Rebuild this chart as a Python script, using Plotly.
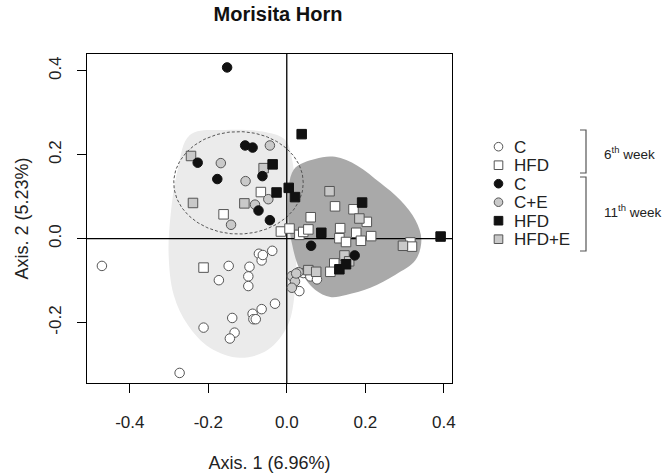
import numpy as np
import plotly.graph_objects as go

# ---------------- data ----------------
c6_x = [-0.471, -0.212, -0.273, -0.148, -0.173, -0.095, -0.098, -0.098, -0.071, -0.064,
        -0.037, -0.139, -0.133, -0.145, -0.087, -0.064, -0.030, -0.085, -0.079, -0.061,
        0.032, 0.042, 0.060, 0.077]
c6_y = [-0.065, -0.212, -0.320, -0.065, -0.099, -0.067, -0.090, -0.113, -0.036, -0.052,
        -0.029, -0.189, -0.224, -0.238, -0.179, -0.168, -0.155, -0.192, -0.192, -0.039,
        -0.125, -0.082, -0.090, -0.097]

hfd6_x = [-0.212, -0.066, -0.161, -0.015, 0.007, 0.032, 0.042, 0.055, 0.123, 0.061,
          0.170, 0.204, 0.136, 0.134, 0.151, 0.177, 0.189, 0.215, 0.315, 0.319, 0.121, 0.111]
hfd6_y = [-0.069, 0.111, 0.058, 0.017, 0.024, 0.009, 0.016, 0.022, 0.077, 0.051,
          0.070, 0.040, 0.025, 0.001, -0.008, 0.014, -0.005, 0.006, -0.009, -0.019, -0.059, -0.079]

c11_x = [-0.152, -0.106, -0.087, -0.227, -0.177, -0.062, -0.072, -0.043, 0.062, 0.173]
c11_y = [0.408, 0.222, 0.217, 0.181, 0.142, 0.149, 0.067, 0.044, -0.017, -0.040]

ce11_x = [-0.043, -0.168, -0.105, -0.081, -0.047, -0.142, 0.013, 0.021, 0.013, 0.030, 0.024]
ce11_y = [0.222, 0.180, 0.137, 0.081, 0.094, 0.033, -0.089, -0.102, -0.117, -0.080, -0.083]

hfd11_x = [-0.036, -0.026, 0.005, 0.021, 0.038, 0.088, 0.192, 0.134, 0.151, 0.392]
hfd11_y = [0.177, 0.110, 0.121, 0.099, 0.249, 0.014, 0.086, -0.073, -0.061, 0.005]

hfde11_x = [-0.244, -0.059, -0.239, -0.108, 0.109, 0.185, 0.296, 0.147, 0.159, 0.055, 0.075]
hfde11_y = [0.197, 0.168, 0.085, 0.084, 0.113, 0.048, -0.017, -0.040, -0.054, -0.075, -0.079]

# smooth group envelopes
light_hull_x = [-0.247, -0.158, -0.055, -0.004, 0.016, 0.021, 0.024, 0.021, 0.003, -0.048,
                -0.119, -0.196, -0.252, -0.288, -0.301, -0.296, -0.278]
light_hull_y = [0.247, 0.259, 0.254, 0.235, 0.176, 0.092, -0.027, -0.122, -0.206, -0.265,
                -0.284, -0.260, -0.206, -0.134, -0.039, 0.056, 0.164]
dark_hull_x = [0.018, 0.072, 0.123, 0.180, 0.238, 0.289, 0.328, 0.343, 0.328, 0.277,
               0.213, 0.151, 0.111, 0.072, 0.034, 0.014, 0.003]
dark_hull_y = [0.165, 0.190, 0.195, 0.174, 0.133, 0.092, 0.044, -0.003, -0.051, -0.086,
               -0.117, -0.134, -0.139, -0.122, -0.075, -0.015, 0.075]

ell_center = (-0.123, 0.133)
ell_radii = (0.165, 0.122)

x_ticks = [-0.4, -0.2, 0.0, 0.2, 0.4]
x_tick_labels = ["-0.4", "-0.2", "0.0", "0.2", "0.4"]
y_ticks = [-0.2, 0.0, 0.2, 0.4]
y_tick_labels = ["-0.2", "0.0", "0.2", "0.4"]

legend_labels = ["C", "HFD", "C", "C+E", "HFD", "HFD+E"]

# ---------------- styling ----------------
W, H = 663, 476
ML, MT = 87, 54
MR = W - 452
MB = H - 383
PW, PH = W - ML - MR, H - MT - MB
XR = [-0.509, 0.421]
YR = [-0.344, 0.44]
FONT = "Liberation Sans, Arial, Helvetica, sans-serif"
WHITE, GREY, BLACK = "#ffffff", "#c9c9c9", "#111111"
EDGE = "#555555"

def close(a):
    return list(a) + [a[0]]

fig = go.Figure()

fig.add_trace(go.Scatter(x=close(light_hull_x), y=close(light_hull_y), mode="lines",
                         line=dict(color="#ebebeb", width=0, shape="spline", smoothing=1.0),
                         fill="toself", fillcolor="#ebebeb", hoverinfo="skip", showlegend=False))
fig.add_trace(go.Scatter(x=close(dark_hull_x), y=close(dark_hull_y), mode="lines",
                         line=dict(color="#a9a9a9", width=0, shape="spline", smoothing=1.0),
                         fill="toself", fillcolor="#a9a9a9", hoverinfo="skip", showlegend=False))

t = np.linspace(0, 2 * np.pi, 200)
fig.add_trace(go.Scatter(x=ell_center[0] + ell_radii[0] * np.cos(t),
                         y=ell_center[1] + ell_radii[1] * np.sin(t), mode="lines",
                         line=dict(color="#555555", width=1, dash="3px,2px"),
                         hoverinfo="skip", showlegend=False))

# reference lines through the origin
fig.add_trace(go.Scatter(x=[0, 0], y=YR, mode="lines", line=dict(color="black", width=1.3),
                         hoverinfo="skip", showlegend=False))
fig.add_trace(go.Scatter(x=XR, y=[0, 0], mode="lines", line=dict(color="black", width=1.3),
                         hoverinfo="skip", showlegend=False))

def pts(x, y, symbol, fill, edge, name):
    fig.add_trace(go.Scatter(x=x, y=y, mode="markers", name=name, showlegend=False,
                             marker=dict(symbol=symbol, size=9.5, color=fill,
                                         line=dict(color=edge, width=1))))

pts(c6_x, c6_y, "circle", WHITE, EDGE, "C (6th week)")
pts(hfd6_x, hfd6_y, "square", WHITE, EDGE, "HFD (6th week)")
pts(hfde11_x, hfde11_y, "square", GREY, EDGE, "HFD+E (11th week)")
pts(ce11_x, ce11_y, "circle", GREY, EDGE, "C+E (11th week)")
pts(c11_x, c11_y, "circle", BLACK, BLACK, "C (11th week)")
pts(hfd11_x, hfd11_y, "square", BLACK, BLACK, "HFD (11th week)")

# ---------------- manual legend (paper coords, from screen pixels) ----------------
def px(xs):
    return (xs - ML) / PW

def py(ys):
    return (H - MB - ys) / PH

shapes = []
annotations = []
leg_styles = [("circle", WHITE, EDGE), ("square", WHITE, EDGE), ("circle", BLACK, BLACK),
              ("circle", GREY, EDGE), ("square", BLACK, BLACK), ("square", GREY, EDGE)]
row0, row_step, mx, r = 146.7, 18.5, 498.5, 4.3
for i, (lab, (sym, fc, ec)) in enumerate(zip(legend_labels, leg_styles)):
    yc = row0 + i * row_step
    shapes.append(dict(type="circle" if sym == "circle" else "rect", xref="paper", yref="paper",
                       x0=px(mx - r), x1=px(mx + r), y0=py(yc + r), y1=py(yc - r),
                       fillcolor=fc, line=dict(color=ec, width=1)))
    annotations.append(dict(text=lab, xref="paper", yref="paper", x=px(512), y=py(yc + 0.5),
                            xanchor="left", yanchor="middle", showarrow=False,
                            font=dict(family=FONT, size=17, color="#222222")))

def bracket(y0, y1, xb=586, arm=6):
    return dict(type="path", xref="paper", yref="paper",
                path=f"M {px(xb - arm)},{py(y0)} L {px(xb)},{py(y0)} L {px(xb)},{py(y1)} L {px(xb - arm)},{py(y1)}",
                line=dict(color="#555555", width=1.2))

shapes.append(bracket(130, 173))
shapes.append(bracket(177, 251))
annotations.append(dict(text="6<sup>th</sup> week", xref="paper", yref="paper", x=px(602), y=py(153),
                        xanchor="left", yanchor="middle", showarrow=False,
                        font=dict(family=FONT, size=13.5, color="#222222")))
annotations.append(dict(text="11<sup>th</sup> week", xref="paper", yref="paper", x=px(602), y=py(211),
                        xanchor="left", yanchor="middle", showarrow=False,
                        font=dict(family=FONT, size=13.5, color="#222222")))

axis_common = dict(showgrid=False, zeroline=False, showline=True, mirror=True,
                   linecolor="black", linewidth=1.3, ticks="outside", ticklen=9,
                   tickwidth=1.2, tickcolor="black", automargin=False,
                   tickfont=dict(family=FONT, size=17, color="#222222"))

fig.update_layout(
    width=W, height=H,
    margin=dict(l=ML, r=MR, t=MT, b=MB, autoexpand=False),
    paper_bgcolor="white", plot_bgcolor="white",
    title=dict(text="<b>Morisita Horn</b>", x=px(278), xref="paper", y=1 - 14 / H,
               yanchor="middle", xanchor="center",
               font=dict(family=FONT, size=20, color="#111111")),
    xaxis=dict(range=XR, tickvals=x_ticks, ticktext=x_tick_labels, ticklabelstandoff=14,
               title=dict(text="Axis. 1 (6.96%)", standoff=25,
                          font=dict(family=FONT, size=18, color="#222222")),
               **axis_common),
    yaxis=dict(range=YR, tickvals=y_ticks, ticktext=y_tick_labels, tickangle=-90,
               ticklabelstandoff=9,
               title=dict(text="Axis. 2 (5.23%)", standoff=12,
                          font=dict(family=FONT, size=18, color="#222222")),
               **axis_common),
    shapes=shapes, annotations=annotations, showlegend=False,
)

# remove the browser's default page margin so the figure fills the window exactly
fig.write_html("out.html", config={"displayModeBar": False},
               post_script="document.body.style.margin='0';")
